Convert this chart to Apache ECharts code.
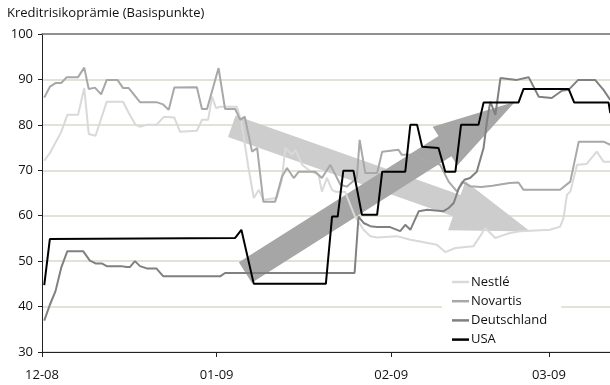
<!DOCTYPE html>
<html>
<head>
<meta charset="utf-8">
<script src="https://cdn.jsdelivr.net/npm/echarts@6/dist/echarts.min.js"></script>
<style>
  html, body { margin: 0; padding: 0; background: #fff; }
  #chart { width: 610px; height: 385px; }
</style>
</head>
<body>
<div id="chart"></div>
<script>
// x = days since 1 Dec 2008, y = basis points
const monthTicks = [0, 31, 62, 90];
const monthLabels = ['12-08', '01-09', '02-09', '03-09'];

const nestle = [
  [0.4, 72.1], [1.4, 73.8], [3.4, 78.4], [4.5, 82.2], [6.4, 82.2], [7.5, 88.1], [8.3, 78.0],
  [9.5, 77.6], [11.5, 85.1], [14.4, 85.1], [15.4, 82.6], [16.6, 80.0], [17.4, 79.6], [18.6, 80.0],
  [20.3, 80.0], [21.7, 81.8], [23.5, 81.6], [24.5, 78.5], [27.5, 78.7], [28.4, 81.1], [29.5, 81.1],
  [30.2, 86.2], [30.9, 83.7], [31.7, 84.0], [34.6, 84.0], [35.4, 80.7], [36.6, 71.0], [37.6, 63.9],
  [38.5, 65.7], [39.3, 63.5], [41.7, 63.9], [42.6, 68.0], [43.2, 74.9], [44.4, 73.4], [45.0, 74.5],
  [46.2, 71.2], [47.3, 70.1], [49.1, 69.0], [49.7, 65.3], [50.6, 68.3], [51.5, 65.7], [52.1, 65.3],
  [53.8, 65.3], [55.5, 60.0], [57.1, 56.9], [58.3, 55.5], [59.5, 55.2], [63.0, 55.5], [65.4, 54.7],
  [66.9, 54.4], [70.1, 53.6], [71.6, 52.0], [73.4, 52.9], [76.6, 53.3], [77.8, 55.5], [78.7, 57.3],
  [80.5, 55.1], [81.4, 55.5], [83.1, 56.2], [84.9, 56.6], [90.2, 56.9], [92.0, 57.6], [92.6, 59.5],
  [93.2, 64.6], [93.8, 65.3], [95.0, 71.2], [96.7, 71.4], [98.5, 74.1], [99.7, 71.9], [100.9, 71.9]
];

const novartis = [
  [0.4, 86.0], [1.4, 88.4], [2.4, 89.2], [3.4, 89.2], [4.4, 90.5], [6.4, 90.5], [7.5, 92.6],
  [8.3, 87.9], [9.4, 88.2], [10.5, 86.7], [11.5, 89.9], [13.4, 89.9], [14.4, 88.1], [15.4, 88.1],
  [17.4, 85.0], [20.3, 85.0], [21.5, 84.5], [22.5, 83.3], [23.5, 88.2], [27.5, 88.3], [28.4, 83.5],
  [29.3, 83.5], [31.35, 92.5], [32.5, 83.5], [34.3, 83.5], [35.2, 81.1], [36.0, 81.8], [37.3, 74.1],
  [38.2, 74.9], [39.3, 63.1], [41.4, 63.1], [42.6, 68.6], [43.5, 70.5], [44.7, 68.3], [45.6, 69.7],
  [48.5, 69.7], [49.7, 68.3], [51.2, 71.2], [53.0, 66.8], [54.1, 66.4], [55.9, 68.3], [56.4, 76.7],
  [57.4, 69.4], [59.5, 69.4], [60.4, 74.1], [63.3, 74.5], [63.9, 73.4], [66.3, 73.4], [67.2, 72.7],
  [68.9, 71.9], [70.7, 71.2], [72.2, 67.5], [73.7, 65.3], [74.6, 67.5], [76.0, 66.5], [78.0, 66.3],
  [80.0, 66.6], [83.0, 67.2], [84.6, 67.3], [85.5, 65.7], [92.0, 65.7], [93.8, 67.5], [95.3, 76.3],
  [99.7, 76.3], [100.9, 75.6]
];

const deutschland = [
  [0.4, 36.9], [1.4, 40.4], [2.4, 43.4], [3.4, 48.5], [4.5, 52.2], [7.3, 52.2], [8.5, 50.1],
  [9.5, 49.5], [10.6, 49.5], [11.5, 48.9], [14.1, 48.9], [15.0, 48.7], [15.6, 48.7], [16.5, 50.0],
  [17.4, 48.9], [18.6, 48.4], [20.3, 48.4], [21.5, 46.7], [31.7, 46.7], [32.5, 47.4], [55.5, 47.4],
  [56.2, 59.8], [57.1, 58.4], [58.3, 57.7], [59.5, 57.5], [61.8, 57.5], [63.6, 56.6], [64.5, 58.0],
  [65.4, 56.9], [66.9, 61.0], [68.4, 61.3], [71.3, 61.0], [72.2, 61.7], [73.1, 62.8], [74.0, 66.0],
  [75.0, 67.9], [76.0, 68.3], [77.2, 69.7], [78.4, 74.9], [79.0, 80.7], [79.6, 85.1], [80.5, 82.2],
  [81.4, 90.3], [84.3, 89.9], [86.4, 90.5], [88.2, 86.2], [90.5, 85.9], [92.3, 87.5], [93.5, 87.7],
  [95.2, 89.9], [98.2, 89.9], [99.7, 87.7], [100.9, 85.5]
];

const usa = [
  [0.4, 44.7], [1.4, 54.9], [34.3, 55.1], [35.4, 56.9], [37.6, 45.0], [50.4, 45.0], [51.5, 59.8],
  [52.5, 59.8], [53.5, 69.9], [55.3, 69.9], [56.8, 60.2], [59.5, 60.2], [60.4, 69.7], [64.5, 69.7],
  [65.4, 80.0], [66.6, 80.0], [67.5, 75.2], [70.4, 74.9], [71.6, 69.7], [73.4, 69.7], [74.4, 80.0],
  [77.5, 80.0], [78.4, 84.9], [84.6, 84.9], [85.5, 87.9], [93.5, 87.9], [94.5, 84.9], [100.6, 84.9],
  [100.9, 82.6]
];

// the two trend arrows, in data coordinates: [tail, tip]
const arrowDown = [[33.7, 79.7], [86.7, 56.5]];
const arrowUp = [[36.1, 47.5], [84.0, 85.1]];

const font = '"Open Sans", "Noto Sans", sans-serif';

const chart = echarts.init(document.getElementById('chart'));

function lineSeries(name, data, color) {
  return {
    name: name,
    type: 'line',
    data: data,
    symbol: 'none',
    lineStyle: { color: color, width: 2 },
    itemStyle: { color: color },
    z: 3
  };
}

chart.setOption({
  animation: false,
  textStyle: { fontFamily: font },
  title: {
    text: 'Kreditrisikoprämie (Basispunkte)',
    left: 7,
    top: 7,
    padding: 0,
    textStyle: { fontSize: 13, fontWeight: 'normal', color: '#111', fontFamily: font }
  },
  grid: { left: 42, top: 34, right: 0, bottom: 33 },
  legend: {
    orient: 'vertical',
    left: 442,
    top: 268,
    padding: [7, 14, 4, 10],
    backgroundColor: '#fff',
    icon: 'rect',
    itemWidth: 17,
    itemHeight: 2.5,
    itemGap: 5.2,
    textStyle: { fontSize: 13, lineHeight: 14, color: '#111', fontFamily: font, padding: [0, 0, 0, -3] },
    data: ['Nestlé', 'Novartis', 'Deutschland', 'USA']
  },
  xAxis: [{
    type: 'value',
    min: 0,
    max: 100.85,
    axisLine: { lineStyle: { color: '#222', width: 1 } },
    axisTick: { customValues: monthTicks, length: 5, lineStyle: { color: '#222' } },
    axisLabel: {
      customValues: monthTicks,
      margin: 17,
      fontSize: 13,
      color: '#111',
      formatter: function (v) {
        const i = monthTicks.indexOf(v);
        return i >= 0 ? monthLabels[i] : '';
      }
    },
    splitLine: { show: false }
  }, {
    type: 'value',
    position: 'top',
    min: 0,
    max: 100.85,
    axisLine: { show: true, onZero: false, lineStyle: { color: '#777', width: 1.5 } },
    axisTick: { show: false },
    axisLabel: { show: false },
    splitLine: { show: false }
  }],
  yAxis: {
    type: 'value',
    min: 30,
    max: 100,
    interval: 10,
    axisLine: { show: true, lineStyle: { color: '#222', width: 1 } },
    axisTick: { show: true, length: 4, lineStyle: { color: '#222' } },
    axisLabel: { margin: 9, fontSize: 13, color: '#111' },
    splitLine: { lineStyle: { color: '#d8d8c8', width: 1.5 } }
  },
  series: [
    lineSeries('Nestlé', nestle, '#d9d9d9'),
    lineSeries('Novartis', novartis, '#a8a8a8'),
    lineSeries('Deutschland', deutschland, '#808080'),
    lineSeries('USA', usa, '#000')
  ]
});

function arrowPoints(ends, shaftHalf, headHalf, headLen) {
  const t = chart.convertToPixel({ gridIndex: 0 }, ends[0]);
  const p = chart.convertToPixel({ gridIndex: 0 }, ends[1]);
  const dx = p[0] - t[0], dy = p[1] - t[1];
  const len = Math.sqrt(dx * dx + dy * dy);
  const ux = dx / len, uy = dy / len;
  const nx = -uy, ny = ux;
  const b = [p[0] - ux * headLen, p[1] - uy * headLen];
  return [
    [t[0] + nx * shaftHalf, t[1] + ny * shaftHalf],
    [b[0] + nx * shaftHalf, b[1] + ny * shaftHalf],
    [b[0] + nx * headHalf, b[1] + ny * headHalf],
    p,
    [b[0] - nx * headHalf, b[1] - ny * headHalf],
    [b[0] - nx * shaftHalf, b[1] - ny * shaftHalf],
    [t[0] - nx * shaftHalf, t[1] - ny * shaftHalf]
  ];
}

chart.setOption({
  graphic: [
    {
      type: 'polygon',
      z: 1,
      shape: { points: arrowPoints(arrowDown, 11.3, 26, 78) },
      style: { fill: '#cdcdcd' }
    },
    {
      type: 'polygon',
      z: 1,
      shape: { points: arrowPoints(arrowUp, 12, 23, 83) },
      style: { fill: '#a6a6a6' }
    }
  ]
});
</script>
</body>
</html>
